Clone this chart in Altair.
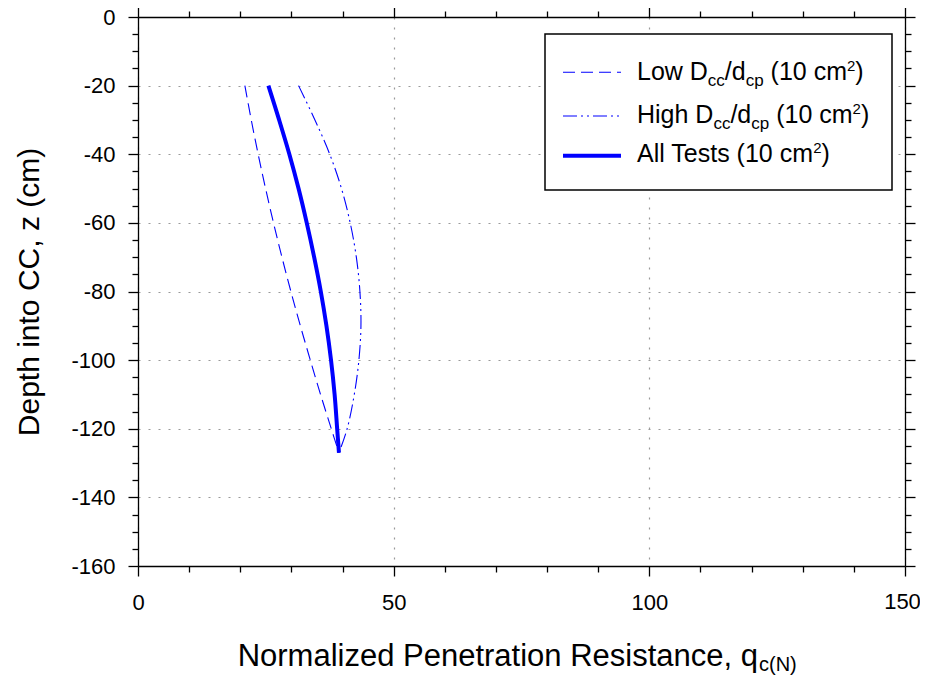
import altair as alt
import pandas as pd

# ---------------- data ----------------
depth = [-20, -30, -40, -50, -60, -70, -80, -90, -100, -110, -120, -127]
q_all = [25.5, 27.6, 29.6, 31.4, 33.0, 34.45, 35.75, 36.85, 37.75, 38.45, 38.95, 39.3]
q_low = [20.9, 22.15, 23.5, 24.95, 26.5, 28.15, 29.9, 31.75, 33.7, 35.7, 37.8, 39.3]
q_high = [31.4, 34.6, 37.5, 39.8, 41.5, 42.7, 43.4, 43.6, 43.2, 42.3, 40.9, 39.3]

x_ticks = list(range(0, 151, 10))
y_ticks = list(range(-160, 1, 5))
x_last_label = [150]

series_names = ["Low", "High", "All"]

# ---------------- styling ----------------
BLUE = "#0000FF"
FONT = "Liberation Sans"
W, H = 767, 549

n = len(depth)
df = pd.DataFrame({
    "z": depth * 3,
    "q": q_low + q_high + q_all,
    "series": [s for s in series_names for _ in range(n)],
    "idx": list(range(n)) * 3,
})
thin = df[df.series != "All"]
thick = df[df.series == "All"]

xscale = alt.Scale(domain=[0, 150], nice=False, zero=False)
yscale = alt.Scale(domain=[-160, 0], nice=False, zero=False)

def tsize(step):
    return {"condition": {"test": f"datum.value % {step} === 0", "value": 10}, "value": 6}

def gop(step):
    return {"condition": {"test": f"datum.value % {step} === 0", "value": 1}, "value": 0}

x_bottom = alt.X("q:Q", scale=xscale, axis=alt.Axis(
    orient="bottom", values=x_ticks, title=None,
    labelExpr="datum.value % 50 === 0 && datum.value < 150 ? toString(datum.value) : ''",
    labelFlush=False, labelOverlap=False,
    tickSize=tsize(50), labelPadding=16, grid=True, gridOpacity=gop(50)))
y_left = alt.Y("z:Q", scale=yscale, axis=alt.Axis(
    orient="left", values=y_ticks, title="Depth into CC, z (cm)",
    labelExpr="datum.value % 20 === 0 ? toString(datum.value) : ''",
    labelFlush=False, labelOverlap=False,
    tickSize=tsize(20), labelPadding=13, grid=True, gridOpacity=gop(20),
    titleX=-109, titleY=H / 2, titleBaseline="middle", titleAngle=270,
    titleFontSize=30, titleFont=FONT, titleFontWeight="normal", titleColor="black"))
x_top = alt.X("q:Q", scale=xscale, axis=alt.Axis(
    orient="top", values=x_ticks, title=None, labels=False, grid=False,
    tickSize=tsize(50)))
y_right = alt.Y("z:Q", scale=yscale, axis=alt.Axis(
    orient="right", values=y_ticks, title=None, labels=False, grid=False,
    tickSize=tsize(20)))

thin_lines = alt.Chart(thin).mark_line(
    color=BLUE, strokeWidth=1.1, interpolate="catmull-rom").encode(
    x=x_bottom, y=y_left,
    strokeDash=alt.StrokeDash("series:N", legend=None, scale=alt.Scale(
        domain=["Low", "High"], range=[[12, 6], [14, 4, 2, 4, 2, 4]])),
    order="idx:Q",
)
thick_line = alt.Chart(thick).mark_line(
    color=BLUE, strokeWidth=4, interpolate="catmull-rom").encode(
    x=x_top, y=y_right, order="idx:Q",
)

# last x tick label, nudged so it stays inside the page
last_label = alt.Chart(pd.DataFrame({"q": x_last_label})).mark_text(
    align="center", baseline="top", font=FONT, fontSize=22, color="black", dx=-2.5
).encode(x=alt.X("q:Q", scale=xscale, axis=None), y=alt.value(H + 26),
         text=alt.Text("q:Q"))

# ---------------- legend (manual, for sub/superscripts) ----------------
dummy = pd.DataFrame({"a": [0]})
AW = {" ": 278, "(": 333, ")": 333, "/": 278, "0": 556, "1": 556, "2": 556,
      "A": 667, "D": 722, "H": 722, "L": 556, "T": 611, "a": 556, "c": 500,
      "d": 556, "e": 556, "g": 556, "h": 556, "i": 222, "l": 222, "m": 833,
      "o": 556, "p": 556, "s": 500, "t": 278, "w": 722, "N": 722, "q": 556}
KERN = {"Te": -120}
SIZES = {"n": 25, "sub": 17, "sup": 15}
DY = {"n": 0, "sub": 6, "sup": -9}

def tw(s, fs):
    units = sum(AW.get(c, 556) for c in s)
    units += sum(KERN.get(s[i:i + 2], 0) for i in range(len(s) - 1))
    return units / 1000 * fs

def text_runs(parts, x0, y0):
    out = []
    x = x0
    for t, k in parts:
        fs = SIZES[k]
        body = t.lstrip(" ")
        lead = tw(t[: len(t) - len(body)], fs)
        out.append(alt.Chart(dummy).mark_text(
            align="left", baseline="alphabetic", font=FONT, fontSize=fs, color="black"
        ).encode(x=alt.value(x + lead), y=alt.value(y0 + DY[k]), text=alt.value(body)))
        x += tw(t, fs)
    return out

leg_box = alt.Chart(dummy).mark_rect(fill="white", stroke="black", strokeWidth=1.5).encode(
    x=alt.value(407), x2=alt.value(754), y=alt.value(17), y2=alt.value(173))

rows_y = [55.3, 99, 138.7]
base_y = [62.5, 106, 145]
samples = [
    alt.Chart(dummy).mark_rule(color=BLUE, strokeWidth=1.1, strokeDash=[12, 6]).encode(
        x=alt.value(425), x2=alt.value(483), y=alt.value(rows_y[0])),
    alt.Chart(dummy).mark_rule(color=BLUE, strokeWidth=1.1, strokeDash=[14, 4, 2, 4, 2, 4]).encode(
        x=alt.value(425), x2=alt.value(483), y=alt.value(rows_y[1])),
    alt.Chart(dummy).mark_rule(color=BLUE, strokeWidth=4).encode(
        x=alt.value(425), x2=alt.value(483), y=alt.value(rows_y[2])),
]
legend_texts = []
legend_texts += text_runs([("Low D", "n"), ("cc", "sub"), ("/d", "n"), ("cp", "sub"),
                           (" (10 cm", "n"), ("2", "sup"), (")", "n")], 499, base_y[0])
legend_texts += text_runs([("High D", "n"), ("cc", "sub"), ("/d", "n"), ("cp", "sub"),
                           (" (10 cm", "n"), ("2", "sup"), (")", "n")], 499, base_y[1])
legend_texts += text_runs([("All Tests (10 cm", "n"), ("2", "sup"), (")", "n")], 499, base_y[2])

# ---------------- x-axis title with subscript ----------------
x_split = 620
x_title = [
    alt.Chart(dummy).mark_text(align="right", baseline="alphabetic", font=FONT,
                               fontSize=31, color="black").encode(
        x=alt.value(x_split), y=alt.value(649), text=alt.value("Normalized Penetration Resistance, q")),
    alt.Chart(dummy).mark_text(align="left", baseline="alphabetic", font=FONT,
                               fontSize=20, color="black").encode(
        x=alt.value(x_split + 1), y=alt.value(654), text=alt.value("c(N)")),
]

chart = alt.layer(
    thin_lines, thick_line, last_label, leg_box, *samples, *legend_texts, *x_title
).properties(
    width=W, height=H,
    autosize=alt.AutoSizeParams(type="none"),
    padding={"left": 130, "top": 9, "right": 15, "bottom": 109},
).configure_view(strokeWidth=0).configure_axis(
    domainColor="black", domainWidth=1.3, tickColor="black", tickWidth=1.3,
    labelFont=FONT, labelFontSize=22, labelColor="black",
    gridColor="#9a9a9a", gridDash=[2, 8], gridWidth=1.2,
)

chart.save("out.html", embed_options={"renderer": "svg", "actions": False})
